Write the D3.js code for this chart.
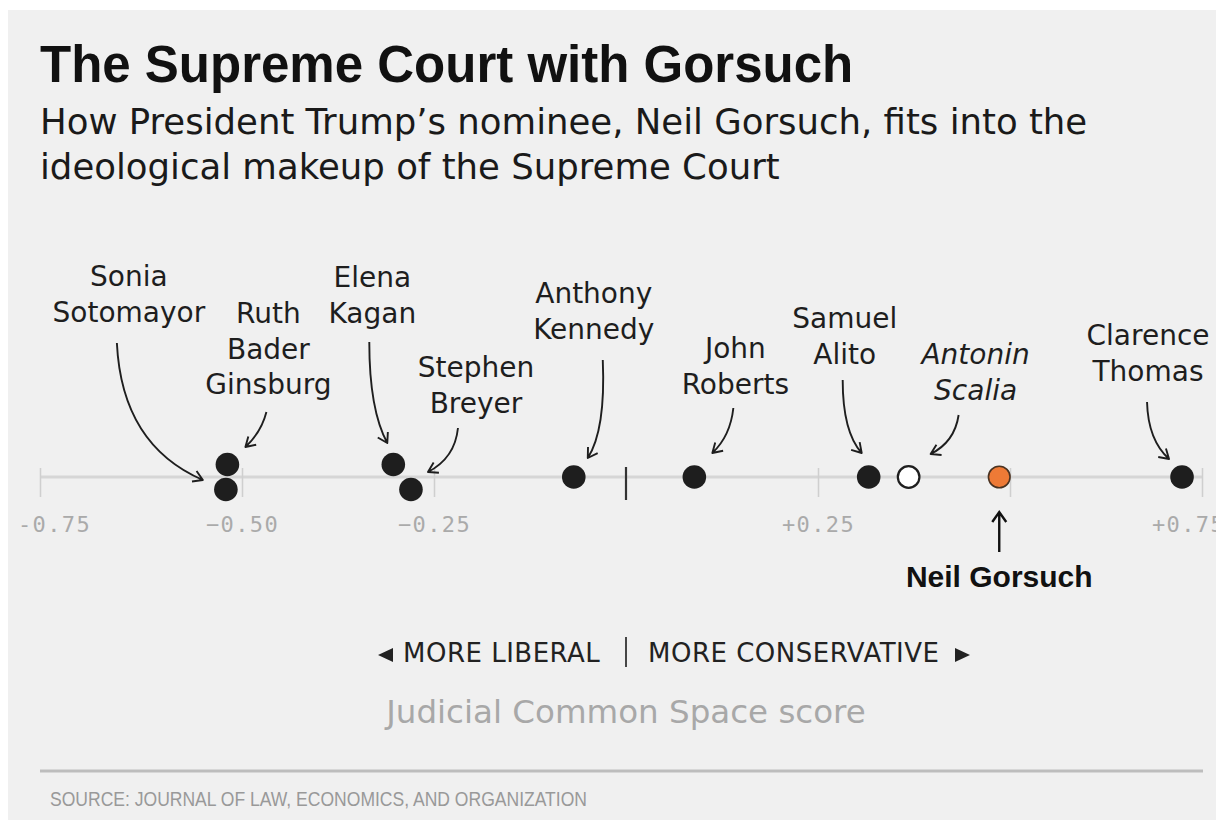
<!DOCTYPE html>
<html>
<head>
<meta charset="utf-8">
<script src="https://cdn.jsdelivr.net/npm/d3@7"></script>
<style>
  body { margin: 0; background: #fff; }
  svg { display: block; }
</style>
</head>
<body>
<svg id="court-plot"></svg>
<script>
// judicial common space scores
var judgeNames = ["Sonia Sotomayor", "Ruth Bader Ginsburg", "Elena Kagan", "Stephen Breyer",
                  "Anthony Kennedy", "John Roberts", "Samuel Alito", "Antonin Scalia",
                  "Neil Gorsuch", "Clarence Thomas"];
var scores = [-0.521, -0.519, -0.303, -0.280, -0.068, 0.089, 0.316, 0.368, 0.486, 0.724];
var judgeStatus = ["sitting", "sitting", "sitting", "sitting", "sitting", "sitting", "sitting",
                   "former", "nominee", "sitting"];

var tickValues = [-0.75, -0.5, -0.25, 0.25, 0.5, 0.75];
var tickLabels = ["-0.75", "\u22120.50", "\u22120.25", "+0.25", "", "+0.75"];

var width = 1216, height = 820;
var axisY = 477;
var labelFont = "'DejaVu Sans', Verdana, sans-serif";

// where each label and its arrow sit, relative to the dot
var layout = {
  "Sonia Sotomayor":     {lines: ["Sonia", "Sotomayor"], dx: -97, y: 286, row: 1,
                          arrow: [-109, 343, -104, 445, -23, 480]},
  "Ruth Bader Ginsburg": {lines: ["Ruth", "Bader", "Ginsburg"], dx: 41, y: 323, row: -1,
                          arrow: [39, 412, 34, 432, 18, 447]},
  "Elena Kagan":         {lines: ["Elena", "Kagan"], dx: -21, y: 287, row: -1,
                          arrow: [-24, 342, -24, 410, -6, 443]},
  "Stephen Breyer":      {lines: ["Stephen", "Breyer"], dx: 65, y: 377, row: 1,
                          arrow: [47, 428, 44, 458, 17, 472]},
  "Anthony Kennedy":     {lines: ["Anthony", "Kennedy"], dx: 20, y: 303, row: 0,
                          arrow: [29, 360, 32, 430, 14, 458]},
  "John Roberts":        {lines: ["John", "Roberts"], dx: 41, y: 358, row: 0,
                          arrow: [39, 408, 36, 436, 18, 453]},
  "Samuel Alito":        {lines: ["Samuel", "Alito"], dx: -24, y: 328, row: 0,
                          arrow: [-26, 380, -26, 432, -7, 453]},
  "Antonin Scalia":      {lines: ["Antonin", "Scalia"], dx: 67, y: 364, row: 0, italic: true,
                          arrow: [50, 415, 46, 442, 22, 454]},
  "Clarence Thomas":     {lines: ["Clarence", "Thomas"], dx: -34, y: 345, row: 0,
                          arrow: [-35, 402, -34, 440, -13, 459]}
};

var svg = d3.select("#court-plot").attr("width", width).attr("height", height);

// grey panel
svg.append("rect").attr("x", 8).attr("y", 10).attr("width", width - 8).attr("height", height - 10)
   .attr("fill", "#f0f0f0");

// titles
svg.append("text").attr("x", 40).attr("y", 82)
   .style("font-family", "'Liberation Sans', Arial, sans-serif").style("font-weight", "bold")
   .style("font-size", "51px").attr("fill", "#111")
   .text("The Supreme Court with Gorsuch");

var subtitle = ["How President Trump\u2019s nominee, Neil Gorsuch, fits into the",
                "ideological makeup of the Supreme Court"];
svg.append("g").selectAll("text").data(subtitle).enter().append("text")
   .attr("x", 40).attr("y", function(d, i) { return 134 + i * 45; })
   .style("font-family", labelFont).style("font-size", "35.5px").attr("fill", "#1a1a1a")
   .text(function(d) { return d; });

var xScale = d3.scaleLinear().domain([-0.75, 0.75]).range([50, 1202]);

// axis
var axisG = svg.append("g").attr("transform", "translate(0," + axisY + ")");
axisG.append("line").attr("x1", 40).attr("x2", xScale(0.75))
     .attr("stroke", "#d6d6d6").attr("stroke-width", 3);

var xAxis = d3.axisBottom(xScale).tickValues(tickValues).tickSize(0)
              .tickFormat(function(d, i) { return tickLabels[i]; });
axisG.append("g").call(xAxis).call(function(g) {
  g.select(".domain").remove();
  g.selectAll(".tick line").attr("y1", -9).attr("y2", 20)
   .attr("stroke", "#cfcfcf").attr("stroke-width", 1.5);
  g.selectAll(".tick text").attr("y", 55).attr("dy", 0)
   .style("font-family", "'DejaVu Sans Mono', monospace").style("font-size", "22px")
   .style("letter-spacing", "1.4px").attr("fill", "#aaa");
});
// the left end of the line carries its own tick
axisG.selectAll(".tick").filter(function(d) { return d === -0.75; }).select("line")
     .attr("x1", 40 - xScale(-0.75)).attr("x2", 40 - xScale(-0.75));
axisG.selectAll(".tick").filter(function(d) { return d === 0.75; }).select("text")
     .attr("x", -14);
axisG.selectAll(".tick").filter(function(d) { return d === -0.75; }).select("text")
     .attr("x", 4);

// centre mark
axisG.append("line").attr("x1", xScale(0)).attr("x2", xScale(0)).attr("y1", -10).attr("y2", 23)
     .attr("stroke", "#333").attr("stroke-width", 2.2);

var judges = judgeNames.map(function(name, i) {
  return {name: name, score: scores[i], status: judgeStatus[i]};
});

function dotY(d) {
  var l = layout[d.name];
  return axisY + (l ? l.row * 12.5 : 0);
}

// annotations
var annot = svg.append("g");
judges.forEach(function(d) {
  var l = layout[d.name];
  if (!l) return;
  var cx = xScale(d.score);
  annot.append("g").selectAll("text").data(l.lines).enter().append("text")
       .attr("x", cx + l.dx).attr("y", function(t, i) { return l.y + i * 35.5; })
       .attr("text-anchor", "middle")
       .style("font-family", labelFont).style("font-size", "28px")
       .style("font-style", l.italic ? "italic" : "normal")
       .attr("fill", "#1e1e1e")
       .text(function(t) { return t; });

  var a = l.arrow;
  var p0 = [cx + a[0], a[1]], c = [cx + a[2], a[3]], p1 = [cx + a[4], a[5]];
  var path = d3.path();
  path.moveTo(p0[0], p0[1]);
  path.quadraticCurveTo(c[0], c[1], p1[0], p1[1]);
  var ang = Math.atan2(p1[1] - c[1], p1[0] - c[0]);
  var hl = 11, spread = 0.55;
  path.moveTo(p1[0] - hl * Math.cos(ang - spread), p1[1] - hl * Math.sin(ang - spread));
  path.lineTo(p1[0], p1[1]);
  path.lineTo(p1[0] - hl * Math.cos(ang + spread), p1[1] - hl * Math.sin(ang + spread));
  annot.append("path").attr("d", path.toString())
       .attr("fill", "none").attr("stroke", "#1e1e1e").attr("stroke-width", 1.9)
       .attr("stroke-linejoin", "round");
});

// dots
svg.append("g").selectAll("circle").data(judges).enter().append("circle")
   .attr("cx", function(d) { return xScale(d.score); })
   .attr("cy", dotY)
   .attr("r", function(d) { return d.status === "sitting" ? 11.8 : 10.8; })
   .attr("fill", function(d) {
     if (d.status === "former") return "#fff";
     if (d.status === "nominee") return "#ee7a36";
     return "#1e1e1e";
   })
   .attr("stroke", function(d) {
     if (d.status === "former") return "#1e1e1e";
     if (d.status === "nominee") return "#4a3322";
     return "none";
   })
   .attr("stroke-width", function(d) { return d.status === "former" ? 2.2 : 1.6; });

// nominee callout
var nominee = judges.filter(function(d) { return d.status === "nominee"; })[0];
var nx = xScale(nominee.score);
var up = d3.path();
up.moveTo(nx, 552); up.lineTo(nx, 512);
up.moveTo(nx - 7, 522); up.lineTo(nx, 512); up.lineTo(nx + 7, 522);
svg.append("path").attr("d", up.toString()).attr("fill", "none")
   .attr("stroke", "#111").attr("stroke-width", 2.4);
svg.append("text").attr("x", nx).attr("y", 587).attr("text-anchor", "middle")
   .style("font-family", "'Liberation Sans', Arial, sans-serif").style("font-weight", "bold")
   .style("font-size", "30px").attr("fill", "#111")
   .text(nominee.name);

// direction key
var key = svg.append("g");
key.append("path").attr("d", "M378,655 L393,648 L393,662 Z").attr("fill", "#222");
key.append("text").attr("x", 403).attr("y", 662)
   .style("font-family", labelFont).style("font-size", "26px").style("letter-spacing", "0.5px")
   .attr("fill", "#222")
   .text("MORE LIBERAL");
key.append("line").attr("x1", xScale(0)).attr("x2", xScale(0)).attr("y1", 637).attr("y2", 667)
   .attr("stroke", "#333").attr("stroke-width", 1.8);
key.append("text").attr("x", 648).attr("y", 662)
   .style("font-family", labelFont).style("font-size", "26px").style("letter-spacing", "0.5px")
   .attr("fill", "#222")
   .text("MORE CONSERVATIVE");
key.append("path").attr("d", "M970,655 L955,648 L955,662 Z").attr("fill", "#222");

svg.append("text").attr("x", xScale(0)).attr("y", 723).attr("text-anchor", "middle")
   .style("font-family", labelFont).style("font-size", "32.5px").attr("fill", "#a8a8a8")
   .text("Judicial Common Space score");

// source
svg.append("line").attr("x1", 40).attr("x2", 1203).attr("y1", 771).attr("y2", 771)
   .attr("stroke", "#bdbdbd").attr("stroke-width", 3);
svg.append("text").attr("x", 50).attr("y", 806)
   .attr("textLength", 537).attr("lengthAdjust", "spacingAndGlyphs")
   .style("font-family", "'Liberation Sans', Arial, sans-serif").style("font-size", "21px")
   .attr("fill", "#999")
   .text("SOURCE: JOURNAL OF LAW, ECONOMICS, AND ORGANIZATION");
</script>
</body>
</html>
